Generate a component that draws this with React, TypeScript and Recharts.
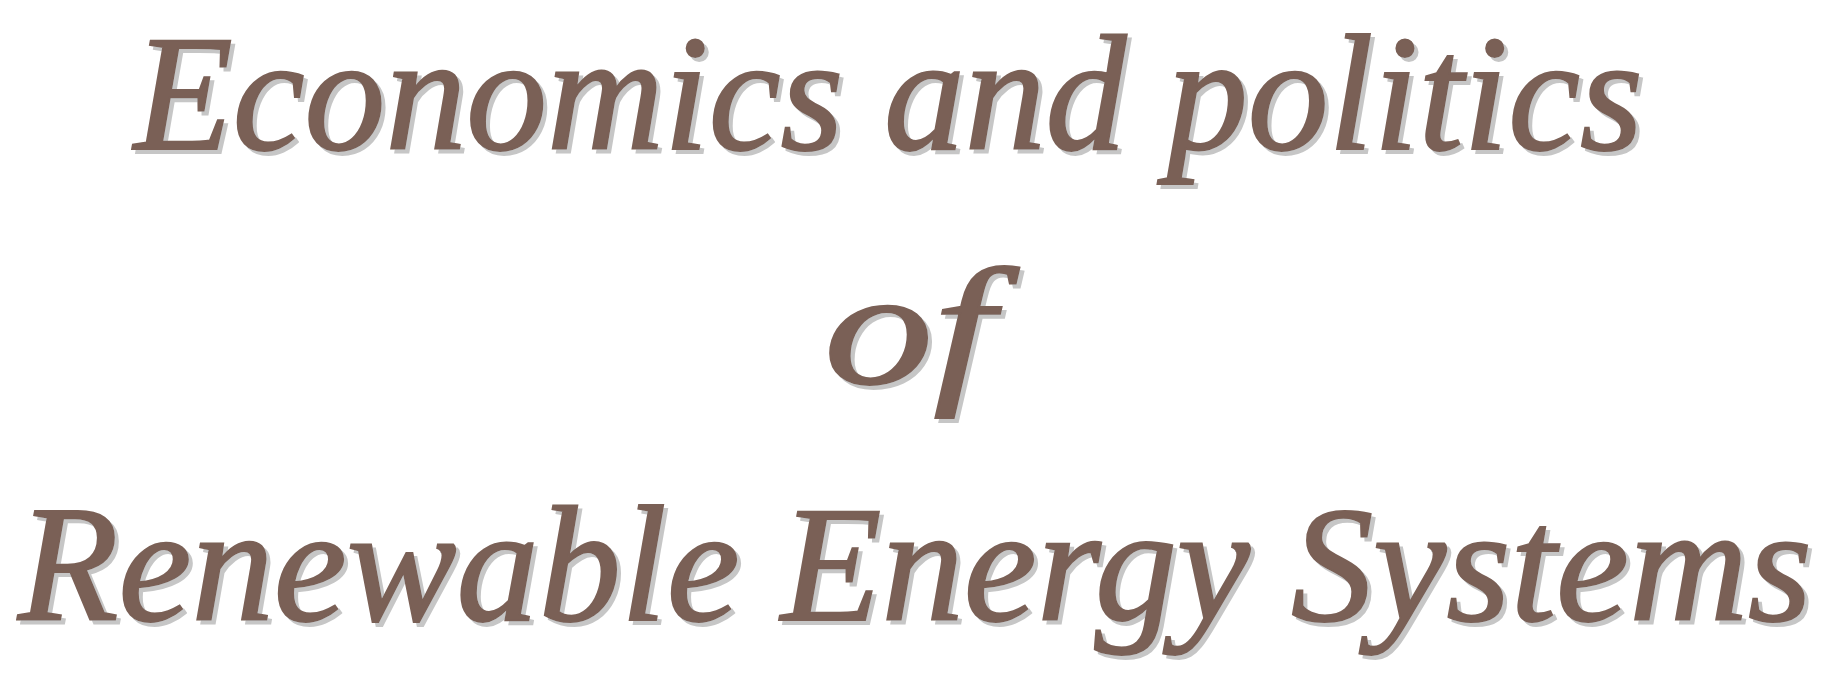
import { Surface, Text } from "recharts";

// title lines as they appear, top to bottom
const lines = ["Economics and politics", "of", "Renewable Energy Systems"];
const lineX = [134, 824, 18];
const lineBaseline = [149, 383, 620];
const lineWidth = [1509, 170, 1794];

const W = 1833;
const H = 677;
const FONT = "'Liberation Serif', 'Times New Roman', serif";
const INK = "#7a6056";
const SHADOW = "#c6c6c6";

export default function App() {
  return (
    <div style={{ position: "fixed", left: 0, top: 0, width: W, height: H, overflow: "hidden", background: "#fff" }}>
      <Surface width={W} height={H}>
        <defs>
          <filter id="wordShadow" x="-5%" y="-20%" width="110%" height="140%">
            <feDropShadow dx={4} dy={4} stdDeviation={0.6} floodColor={SHADOW} floodOpacity={1} />
          </filter>
        </defs>
        <g filter="url(#wordShadow)">
          {lines.map((line, i) => (
            <Text
              key={line}
              x={lineX[i]}
              y={lineBaseline[i]}
              textAnchor="start"
              verticalAnchor="end"
              fontFamily={FONT}
              fontStyle="italic"
              fontSize={165}
              fill={INK}
              stroke={INK}
              strokeWidth={2}
              textLength={lineWidth[i]}
              lengthAdjust="spacingAndGlyphs"
            >
              {line}
            </Text>
          ))}
        </g>
      </Surface>
    </div>
  );
}
